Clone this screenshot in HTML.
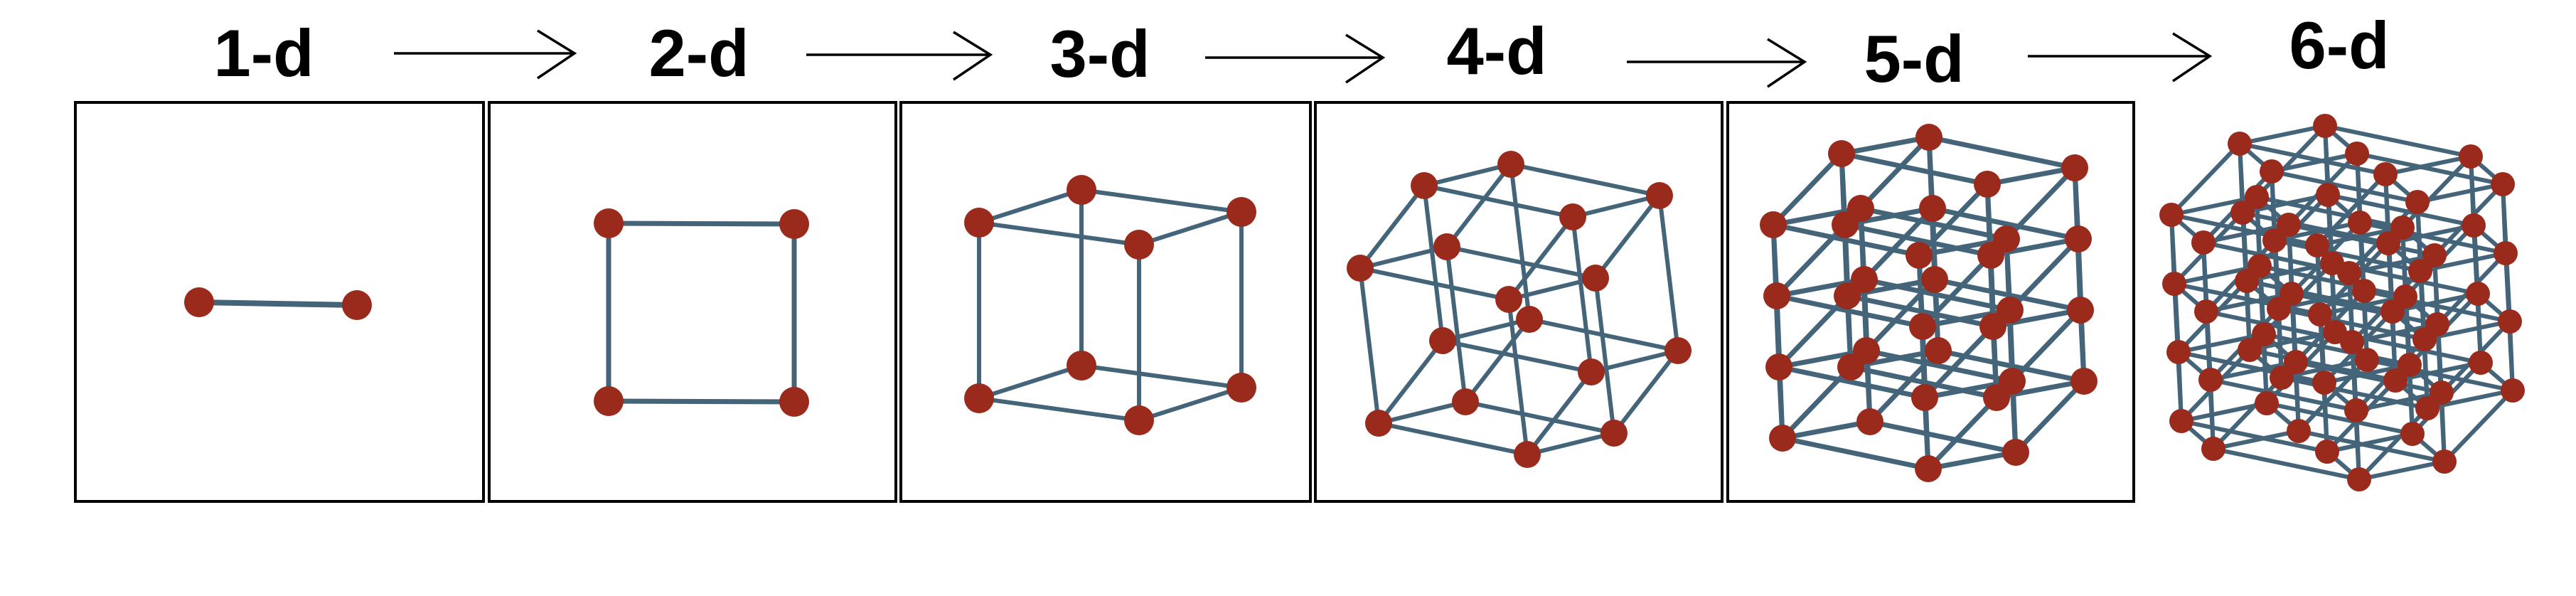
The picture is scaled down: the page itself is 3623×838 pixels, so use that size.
<!DOCTYPE html>
<html><head><meta charset="utf-8"><style>
html,body{margin:0;padding:0;background:#fff;}
svg{display:block;}
text{font-family:"Liberation Sans",sans-serif;font-weight:bold;}
</style></head><body>
<svg id="fig" width="3623" height="838" viewBox="0 0 3623 838" xmlns="http://www.w3.org/2000/svg">
<g id="frames"></g><g id="arrows"></g><g id="labels"></g><g id="graphs"></g>
</svg>
<script>
// Dimension labels and their positions
const dimLabels = ["1-d","2-d","3-d","4-d","5-d","6-d"];
const labelX = [371, 983, 1547, 2105, 2692, 3290];
const labelBaseY = [107, 107, 108, 104, 115, 96];
// Panel frames (left, right)
const frameLeft = [106, 688, 1267, 1850, 2430];
const frameRight = [680, 1260, 1843, 2422, 3001];
// Arrows (start x, end x, y)
const arrowStart = [554, 1134, 1695, 2288, 2852];
const arrowEnd = [808, 1393, 1945, 2538, 3108];
const arrowY = [75, 77, 81, 87, 79];
// Hypercube projection: origins and basis vectors per dimension
const origins = [[280,425],[856,314],[1377,313],[2003,261],[2590,216],[3150,202]];
const bases = [
  [[222,4]],
  [[261,1],[0,250]],
  [[144,-46],[225,31],[0,247]],
  [[122,-30],[209,44],[-90,116],[26,218]],
  [[123,-23],[205,43],[-96,100],[5,100],[8,200]],
  [[120,-25],[205,43],[-96,100],[4,97],[10,193],[45,39]]
];
const nodeR = [21,21,21,19,19,17];
const edgeW = [8,7,6,6,7,6];

const NS="http://www.w3.org/2000/svg";
function mk(tag, attrs, parent){const e=document.createElementNS(NS,tag);for(const k in attrs)e.setAttribute(k,attrs[k]);parent.appendChild(e);return e;}
const frames=document.getElementById('frames'),arrows=document.getElementById('arrows'),labels=document.getElementById('labels'),graphs=document.getElementById('graphs');

frameLeft.forEach((l,i)=>{
  const r=mk('rect',{x:l,y:144,width:frameRight[i]-l,height:561,fill:'none',stroke:'#000','stroke-width':4},frames);
  
  
});
arrowStart.forEach((s,i)=>{
  const e=arrowEnd[i],y=arrowY[i];
  const g=mk('g',{stroke:'#000','stroke-width':3.5,fill:'none'},arrows);
  
  
  mk('line',{x1:s,y1:y,x2:e,y2:y},g);
  mk('polyline',{points:(e-52)+','+(y-32)+' '+e+','+y+' '+(e-52)+','+(y+35)},g);
});
dimLabels.forEach((t,i)=>{
  const el=mk('text',{x:labelX[i],y:labelBaseY[i],'text-anchor':'middle','font-size':94,fill:'#000'},labels);
  el.textContent=t;
  
  
});
bases.forEach((B,di)=>{
  const n=B.length,N=1<<n,O=origins[di];
  const pts=[];
  for(let m=0;m<N;m++){let x=O[0],y=O[1];for(let k=0;k<n;k++)if(m&(1<<k)){x+=B[k][0];y+=B[k][1];}pts.push([x,y]);}
  const g=mk('g',{},graphs);
  
  
  const eg=mk('g',{stroke:'#44647a','stroke-width':edgeW[di],'stroke-linecap':'round'},g);
  for(let m=0;m<N;m++)for(let k=0;k<n;k++){const m2=m|(1<<k);if(m2!==m){
    const l=mk('line',{x1:pts[m][0],y1:pts[m][1],x2:pts[m2][0],y2:pts[m2][1]},eg);
    
    
  }}
  const ng=mk('g',{fill:'#9a2a1c'},g);
  pts.forEach(p=>{
    const c=mk('circle',{cx:p[0],cy:p[1],r:nodeR[di]},ng);
    
    
  });
});
</script>
</body></html>
